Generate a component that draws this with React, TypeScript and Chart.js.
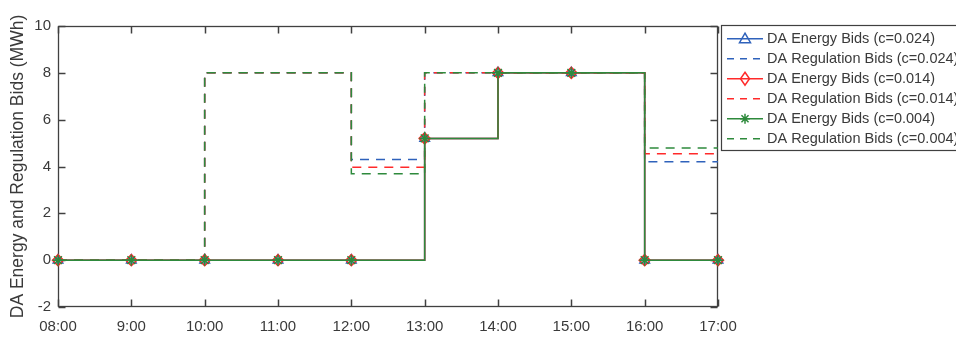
import React, { useEffect, useRef } from "react";
import { Chart, registerables } from "chart.js";

Chart.register(...registerables);

// ---- data ----
const hours = [8, 9, 10, 11, 12, 13, 14, 15, 16, 17];
const xTickLabels = ["08:00", "9:00", "10:00", "11:00", "12:00", "13:00", "14:00", "15:00", "16:00", "17:00"];
const yTickValues = [-2, 0, 2, 4, 6, 8, 10];

const energyC024 = [0, 0, 0, 0, 0, 5.2, 8, 8, 0, 0];
const energyC014 = [0, 0, 0, 0, 0, 5.2, 8, 8, 0, 0];
const energyC004 = [0, 0, 0, 0, 0, 5.2, 8, 8, 0, 0];
const regC024 = [0, 0, 8, 8, 4.3, 8, 8, 8, 4.2, 4.2];
const regC014 = [0, 0, 8, 8, 3.97, 8, 8, 8, 4.54, 4.54];
const regC004 = [0, 0, 8, 8, 3.69, 8, 8, 8, 4.79, 4.79];

const legendLabels = [
  "DA Energy Bids (c=0.024)",
  "DA Regulation Bids (c=0.024)",
  "DA Energy Bids (c=0.014)",
  "DA Regulation Bids (c=0.014)",
  "DA Energy Bids (c=0.004)",
  "DA Regulation Bids (c=0.004)",
];
const yTitle = "DA Energy and Regulation Bids (MWh)";

// ---- styles ----
const BLUE = "#2f62bb";
const RED = "#ff2a2a";
const GREEN = "#2e8a3c";
const AXIS = "#404040";
const TEXT = "#3a3a3a";
const FONT = '"Liberation Sans", Arial, sans-serif';
const DASH = [9, 7];

const toPts = (vals: number[]) => vals.map((v, i) => ({ x: hours[i], y: v }));

type Entry = { color: string; dashed: boolean; marker: string | null };
const legendEntries: Entry[] = [
  { color: BLUE, dashed: false, marker: "tri" },
  { color: BLUE, dashed: true, marker: null },
  { color: RED, dashed: false, marker: "dia" },
  { color: RED, dashed: true, marker: null },
  { color: GREEN, dashed: false, marker: "star" },
  { color: GREEN, dashed: true, marker: null },
];

function drawMarker(ctx: CanvasRenderingContext2D, kind: string, x: number, y: number, color: string) {
  ctx.save();
  ctx.strokeStyle = color;
  ctx.lineWidth = 1.5;
  ctx.setLineDash([]);
  ctx.beginPath();
  if (kind === "tri") {
    ctx.moveTo(x, y - 5.5);
    ctx.lineTo(x + 5.5, y + 4);
    ctx.lineTo(x - 5.5, y + 4);
    ctx.closePath();
  } else if (kind === "dia") {
    ctx.moveTo(x, y - 6.5);
    ctx.lineTo(x + 4.5, y);
    ctx.lineTo(x, y + 6.5);
    ctx.lineTo(x - 4.5, y);
    ctx.closePath();
  } else {
    const r = 5;
    ctx.moveTo(x - r, y); ctx.lineTo(x + r, y);
    ctx.moveTo(x, y - r); ctx.lineTo(x, y + r);
    const d = r * 0.707;
    ctx.moveTo(x - d, y - d); ctx.lineTo(x + d, y + d);
    ctx.moveTo(x - d, y + d); ctx.lineTo(x + d, y - d);
  }
  ctx.stroke();
  ctx.restore();
}

const axesPlugin = {
  id: "matlabAxes",
  beforeDatasetsDraw(chart: any) {
    const ctx: CanvasRenderingContext2D = chart.ctx;
    const a = chart.chartArea;
    const xs = chart.scales["x"];
    const ys = chart.scales["y"];
    const L = Math.round(a.left) + 0.5, R = Math.round(a.right) - 0.5;
    const T = Math.round(a.top) + 0.5, B = Math.round(a.bottom) - 0.5;
    const tl = 7;
    ctx.save();
    ctx.setLineDash([]);
    ctx.strokeStyle = AXIS;
    ctx.lineWidth = 1.3;
    ctx.strokeRect(L, T, R - L, B - T);
    ctx.lineWidth = 1.5;
    for (let i = 0; i < hours.length; i++) {
      const px = Math.round(xs.getPixelForValue(hours[i])) + 0.5;
      ctx.beginPath();
      ctx.moveTo(px, B);
      ctx.lineTo(px, B - tl);
      ctx.stroke();
      ctx.beginPath();
      ctx.moveTo(px, T);
      ctx.lineTo(px, T + tl);
      ctx.stroke();
    }
    for (let i = 0; i < yTickValues.length; i++) {
      const py = Math.round(ys.getPixelForValue(yTickValues[i])) + 0.5;
      ctx.beginPath();
      ctx.moveTo(L, py);
      ctx.lineTo(L + tl, py);
      ctx.stroke();
      ctx.beginPath();
      ctx.moveTo(R, py);
      ctx.lineTo(R - tl, py);
      ctx.stroke();
    }
    ctx.restore();
  },
  afterDraw(chart: any) {
    const ctx: CanvasRenderingContext2D = chart.ctx;
    ctx.save();
    const bx = 721.5, by = 25.5, bw = 260, bh = 125;
    ctx.fillStyle = "#ffffff";
    ctx.fillRect(bx, by, bw, bh);
    ctx.strokeStyle = AXIS;
    ctx.lineWidth = 1.2;
    ctx.setLineDash([]);
    ctx.strokeRect(bx, by, bw, bh);
    ctx.font = `14.5px ${FONT}`;
    ctx.textBaseline = "middle";
    ctx.textAlign = "left";
    legendEntries.forEach((e, i) => {
      const cy = 38.7 + i * 20;
      ctx.strokeStyle = e.color;
      ctx.lineWidth = 1.5;
      ctx.setLineDash(e.dashed ? [7, 6] : []);
      ctx.beginPath();
      ctx.moveTo(727, cy);
      ctx.lineTo(763, cy);
      ctx.stroke();
      ctx.setLineDash([]);
      if (e.marker) drawMarker(ctx, e.marker, 745, cy, e.color);
      ctx.fillStyle = TEXT;
      ctx.fillText(legendLabels[i], 767, cy + 0.5);
    });
    ctx.restore();
  },
};

export default function App() {
  const ref = useRef<HTMLCanvasElement | null>(null);

  useEffect(() => {
    if (!ref.current) return;
    const lineDs = (label: string, vals: number[], color: string, dashed: boolean, marker: any, order: number) => ({
      label,
      data: toPts(vals),
      borderColor: color,
      backgroundColor: "rgba(0,0,0,0)",
      borderWidth: 1.5,
      borderDash: dashed ? DASH : [],
      stepped: true,
      fill: false,
      clip: false,
      pointStyle: marker || false,
      pointRadius: marker ? 5.5 : 0,
      pointBorderWidth: 1.5,
      pointBorderColor: color,
      pointBackgroundColor: "rgba(0,0,0,0)",
      order,
    });

    const chart = new Chart(ref.current, {
      type: "line",
      data: {
        datasets: [
          lineDs(legendLabels[0], energyC024, BLUE, false, "triangle", 5),
          lineDs(legendLabels[1], regC024, BLUE, true, null, 4),
          lineDs(legendLabels[2], energyC014, RED, false, "rectRot", 3),
          lineDs(legendLabels[3], regC014, RED, true, null, 2),
          lineDs(legendLabels[4], energyC004, GREEN, false, "star", 0),
          lineDs(legendLabels[5], regC004, GREEN, true, null, 1),
        ],
      },
      options: {
        animation: false,
        responsive: false,
        maintainAspectRatio: false,
        layout: { padding: { left: 0, top: 26, right: 238, bottom: 0 } },
        plugins: {
          legend: { display: false },
          tooltip: { enabled: false },
        },
        scales: {
          x: {
            type: "linear",
            min: 8,
            max: 17,
            border: { display: false },
            grid: { display: false, drawTicks: false },
            afterBuildTicks: (s: any) => {
              s.ticks = hours.map((h) => ({ value: h }));
            },
            afterFit: (s: any) => {
              s.height = 31;
            },
            ticks: {
              autoSkip: false,
              maxRotation: 0,
              padding: 11,
              color: TEXT,
              font: { family: FONT, size: 15 },
              callback: (v: any) => {
                const i = hours.indexOf(Number(v));
                return i >= 0 ? xTickLabels[i] : "";
              },
            },
          },
          y: {
            type: "linear",
            min: -2,
            max: 10,
            border: { display: false },
            grid: { display: false, drawTicks: false },
            afterBuildTicks: (s: any) => {
              s.ticks = yTickValues.map((v) => ({ value: v }));
            },
            afterFit: (s: any) => {
              s.width = 58;
            },
            ticks: {
              padding: 7,
              color: TEXT,
              font: { family: FONT, size: 15 },
              callback: (v: any) => String(v),
            },
            title: {
              display: true,
              text: yTitle,
              color: TEXT,
              font: { family: FONT, size: 17.5 },
              padding: { top: 8, bottom: 0 },
            },
          },
        },
      },
      plugins: [axesPlugin],
    } as any);

    return () => chart.destroy();
  }, []);

  return (
    <div style={{ position: "absolute", left: 0, top: 0, width: 956, height: 338, background: "#fff" }}>
      <canvas ref={ref} width={956} height={338} style={{ display: "block" }} />
    </div>
  );
}
